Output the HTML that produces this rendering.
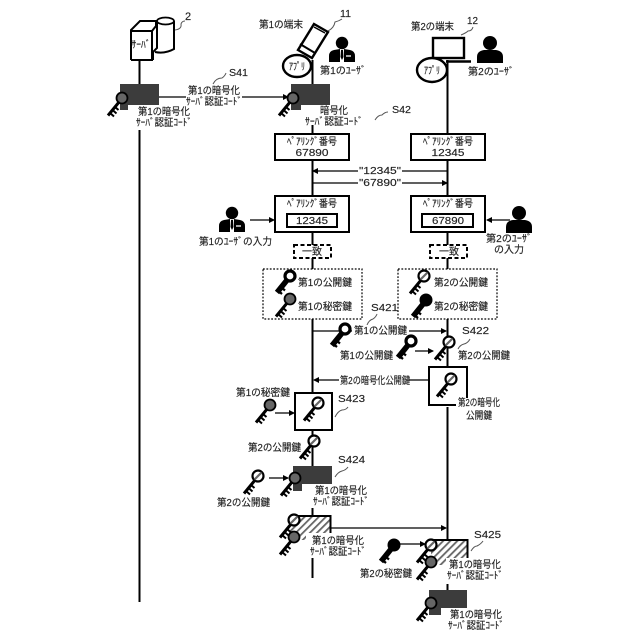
<!DOCTYPE html>
<html lang="ja"><head><meta charset="utf-8"><style>
html,body{margin:0;padding:0;background:#fff}
svg{display:block}
text{font-family:"Liberation Sans","Noto Sans CJK JP",sans-serif;font-size:10px;fill:#222;stroke:#222;stroke-width:.15}
.c{text-anchor:middle}
.l{stroke:#000;stroke-width:2;fill:none}
.t{stroke:#000;stroke-width:1.3;fill:none}
.sq{stroke:#555;stroke-width:1;fill:none}
.b{fill:#fff;stroke:#000;stroke-width:2}
.d{fill:#3c3c3c}
</style></head><body>
<svg width="640" height="640" viewBox="0 0 640 640" xmlns="http://www.w3.org/2000/svg">
<defs>
<marker id="a" markerWidth="6" markerHeight="6" refX="5" refY="3" orient="auto" markerUnits="userSpaceOnUse"><path d="M0,0L6,3L0,6z" fill="#000"/></marker>
<pattern id="h" width="5" height="5" patternUnits="userSpaceOnUse" patternTransform="rotate(-45)"><rect width="5" height="5" fill="#fff"/><rect width="5" height="1.8" fill="#666"/></pattern>
<g id="sh" stroke="#000" fill="none"><path d="M-2.5,3.5L-14,17.500" stroke-width="3"/><path d="M-12.500,14.500l4.500,4M-10,11.500l4.500,4M-7.500,8.500l4,3.500" stroke-width="2"/></g>
<g id="kw"><use href="#sh"/><circle r="5.500" fill="#fff" stroke="#000" stroke-width="2.200"/><path d="M-3.500,3.500L3.500,-3.500" stroke="#666" stroke-width="2.200"/></g>
<g id="kg"><use href="#sh"/><circle r="5.500" fill="#666" stroke="#000" stroke-width="1.800"/></g>
<g id="kp"><path d="M-2.500,3.500L-13,16.500" stroke="#000" stroke-width="5.500"/><path d="M-12,14.500l4,3.500M-9,11l4,3.500" stroke="#000" stroke-width="2.200"/><circle r="5" fill="#fff" stroke="#000" stroke-width="3.200"/></g>
<g id="kk"><path d="M-2.500,3.500L-13,16.500" stroke="#000" stroke-width="5.500"/><path d="M-12,14.500l4,3.500M-9,11l4,3.500" stroke="#000" stroke-width="2.200"/><circle r="6.500" fill="#000"/></g>
<g id="u1"><circle cy="-8" r="6.200" fill="#000"/><path d="M-13,11V5Q-13,0 -8,-1L-2,-2V11zM13,11V5Q13,0 8,-1L2,-2V11z" fill="#000"/><path d="M-1,-1H1L1.500,6L0,9L-1.500,6z" fill="#000"/><path d="M4,5H9" stroke="#fff" stroke-width="1.300"/></g>
<g id="u2"><circle cy="-8" r="7" fill="#000"/><path d="M-13,12V6Q-13,0 -6,-1H6Q13,0 13,6V12z" fill="#000"/></g>
</defs>

<!-- lifelines -->
<path class="l" d="M139.500,60V85M139.500,130V602"/>
<path class="l" d="M312.500,60V85M312.500,125V134M312.500,160V196M312.500,232V245M312.500,257V269M312.500,319V393M312.500,430V466M312.500,508V516M312.500,558V578"/>
<path class="l" d="M447.500,60V134M447.500,160V196M447.500,232V245M447.500,257V269M447.500,319V367M447.500,407V540M447.500,584V590"/>

<!-- server -->
<path d="M157,21V48L153,52V60M155,52Q165,54 174,49V21" fill="#fff" stroke="#000" stroke-width="2"/>
<ellipse cx="165.500" cy="21" rx="8.500" ry="3.500" fill="#fff" stroke="#000" stroke-width="1.800"/>
<path d="M131,60V30L140,21H156V26L152,31H131M152,31V60H131" fill="#fff" stroke="#000" stroke-width="2"/>
<text class="c" x="141" y="48" textLength="19" lengthAdjust="spacingAndGlyphs">ｻｰﾊﾞ</text>
<text x="185" y="20" style="font-size:11px">2</text>
<path class="sq" d="M175,30Q182,29 181,24Q182,21 185,21"/>

<!-- S41 dark -->
<path class="d" d="M120,84H159V105H128V110H120z"/>
<use href="#kg" x="122" y="98"/>
<text class="c" x="164" y="115" textLength="52" lengthAdjust="spacingAndGlyphs">第1の暗号化</text>
<text class="c" x="164" y="126" textLength="56" lengthAdjust="spacingAndGlyphs">ｻｰﾊﾞ認証ｺｰﾄﾞ</text>
<path class="t" d="M159,97H288" marker-end="url(#a)"/>
<rect x="186" y="85" width="56" height="21" fill="#fff"/>
<text class="c" x="214" y="94" textLength="52" lengthAdjust="spacingAndGlyphs">第1の暗号化</text>
<text class="c" x="214" y="105" textLength="56" lengthAdjust="spacingAndGlyphs">ｻｰﾊﾞ認証ｺｰﾄﾞ</text>
<text x="229" y="76" textLength="19" lengthAdjust="spacingAndGlyphs">S41</text>
<path class="sq" d="M213,84Q216,78 222,78Q225,76 226,73"/>

<!-- terminal 1 -->
<text x="259" y="28" textLength="44" lengthAdjust="spacingAndGlyphs">第1の端末</text>
<path d="M314,24L328,32L312,58L298,50z" fill="#fff" stroke="#000" stroke-width="2.400"/>
<path d="M300,44L315,53" stroke="#000" stroke-width="2"/><path d="M314,27L325,33" stroke="#000" stroke-width="1.500"/>
<ellipse cx="297" cy="66" rx="14" ry="11" fill="#fff" stroke="#000" stroke-width="2.400"/>
<text class="c" x="297" y="70" textLength="16" lengthAdjust="spacingAndGlyphs">ｱﾌﾟﾘ</text>
<text x="340" y="17" textLength="11" lengthAdjust="spacingAndGlyphs">11</text>
<path class="sq" d="M328,31Q334,28 335,22Q339,21 342,19"/>
<use href="#u1" x="342" y="51"/>
<text x="320" y="74" textLength="46" lengthAdjust="spacingAndGlyphs">第1のﾕｰｻﾞ</text>
<path class="d" d="M291,84H330V105H301V110H291z"/>
<use href="#kg" x="293" y="98"/>
<text x="320" y="114" textLength="28" lengthAdjust="spacingAndGlyphs">暗号化</text>
<text x="305" y="125" textLength="58" lengthAdjust="spacingAndGlyphs">ｻｰﾊﾞ認証ｺｰﾄﾞ</text>
<text x="392" y="113" textLength="19" lengthAdjust="spacingAndGlyphs">S42</text>
<path class="sq" d="M375,120Q378,115 382,115Q385,112 388,112"/>

<!-- terminal 2 -->
<text x="411" y="30" textLength="43" lengthAdjust="spacingAndGlyphs">第2の端末</text>
<rect x="433" y="38" width="31" height="20" fill="#fff" stroke="#000" stroke-width="2.400"/>
<path d="M446,61.500H471" stroke="#000" stroke-width="2.400"/>
<ellipse cx="432" cy="70" rx="15" ry="12" fill="#fff" stroke="#000" stroke-width="2.400"/>
<text class="c" x="432" y="74" textLength="16" lengthAdjust="spacingAndGlyphs">ｱﾌﾟﾘ</text>
<text x="467" y="24" textLength="11" lengthAdjust="spacingAndGlyphs">12</text>
<path class="sq" d="M461,35Q466,33 468,31Q472,31 473,27"/>
<use href="#u2" x="490" y="51"/>
<text x="468" y="75" textLength="46" lengthAdjust="spacingAndGlyphs">第2のﾕｰｻﾞ</text>

<!-- pairing top -->
<rect class="b" x="275" y="134" width="74" height="26"/>
<text class="c" x="312" y="145" textLength="50" lengthAdjust="spacingAndGlyphs">ﾍﾟｱﾘﾝｸﾞ番号</text>
<text class="c" x="312" y="156" textLength="33" lengthAdjust="spacingAndGlyphs">67890</text>
<rect class="b" x="411" y="134" width="74" height="26"/>
<text class="c" x="448" y="145" textLength="50" lengthAdjust="spacingAndGlyphs">ﾍﾟｱﾘﾝｸﾞ番号</text>
<text class="c" x="448" y="156" textLength="33" lengthAdjust="spacingAndGlyphs">12345</text>

<path class="t" d="M447,171H313" marker-end="url(#a)"/>
<path class="t" d="M313,183H447" marker-end="url(#a)"/>
<rect x="358" y="166" width="44" height="22" fill="#fff"/>
<text class="c" x="380" y="174" textLength="42" lengthAdjust="spacingAndGlyphs">"12345"</text>
<text class="c" x="380" y="186" textLength="42" lengthAdjust="spacingAndGlyphs">"67890"</text>

<!-- pairing entry -->
<rect class="b" x="275" y="196" width="74" height="36"/>
<text class="c" x="312" y="207" textLength="50" lengthAdjust="spacingAndGlyphs">ﾍﾟｱﾘﾝｸﾞ番号</text>
<rect class="b" x="287" y="214" width="50" height="13"/>
<text class="c" x="312" y="224" textLength="32" lengthAdjust="spacingAndGlyphs">12345</text>
<rect class="b" x="411" y="196" width="74" height="36"/>
<text class="c" x="448" y="207" textLength="50" lengthAdjust="spacingAndGlyphs">ﾍﾟｱﾘﾝｸﾞ番号</text>
<rect class="b" x="422" y="214" width="51" height="13"/>
<text class="c" x="448" y="224" textLength="32" lengthAdjust="spacingAndGlyphs">67890</text>

<use href="#u1" x="232" y="221"/>
<path class="t" d="M250,220H274" marker-end="url(#a)"/>
<text x="199" y="245" textLength="73" lengthAdjust="spacingAndGlyphs">第1のﾕｰｻﾞの入力</text>
<use href="#u2" x="519" y="221"/>
<path class="t" d="M510,220H487" marker-end="url(#a)"/>
<text class="c" x="509" y="242" textLength="46" lengthAdjust="spacingAndGlyphs">第2のﾕｰｻﾞ</text>
<text class="c" x="509" y="253" textLength="30" lengthAdjust="spacingAndGlyphs">の入力</text>

<rect x="294" y="245" width="37" height="13" fill="#fff" stroke="#000" stroke-width="2" stroke-dasharray="4 2.500"/>
<text class="c" x="312" y="255" textLength="20" lengthAdjust="spacingAndGlyphs">一致</text>
<rect x="430" y="245" width="37" height="13" fill="#fff" stroke="#000" stroke-width="2" stroke-dasharray="4 2.500"/>
<text class="c" x="449" y="255" textLength="20" lengthAdjust="spacingAndGlyphs">一致</text>

<!-- key groups -->
<rect x="263" y="269" width="99" height="50" fill="#fff" stroke="#000" stroke-width="1.200" stroke-dasharray="1.800 1.600"/>
<rect x="398" y="269" width="99" height="50" fill="#fff" stroke="#000" stroke-width="1.200" stroke-dasharray="1.800 1.600"/>
<use href="#kp" x="290" y="276"/>
<use href="#kg" x="290" y="299"/>
<text x="298" y="286" textLength="54" lengthAdjust="spacingAndGlyphs">第1の公開鍵</text>
<text x="298" y="310" textLength="54" lengthAdjust="spacingAndGlyphs">第1の秘密鍵</text>
<use href="#kw" x="424" y="276"/>
<use href="#kk" x="426" y="300"/>
<text x="434" y="286" textLength="54" lengthAdjust="spacingAndGlyphs">第2の公開鍵</text>
<text x="434" y="310" textLength="54" lengthAdjust="spacingAndGlyphs">第2の秘密鍵</text>

<!-- S421 -->
<text x="371" y="311" textLength="27" lengthAdjust="spacingAndGlyphs">S421</text>
<path class="sq" d="M367,325Q369,320 373,319Q376,317 377,314"/>
<path class="t" d="M313,331H446" marker-end="url(#a)"/>
<rect x="352" y="325" width="57" height="12" fill="#fff"/>
<use href="#kp" x="345" y="329"/>
<text x="354" y="334" textLength="53" lengthAdjust="spacingAndGlyphs">第1の公開鍵</text>

<text x="340" y="359" textLength="53" lengthAdjust="spacingAndGlyphs">第1の公開鍵</text>
<use href="#kp" x="411" y="341"/>
<path class="t" d="M415,351H433" marker-end="url(#a)"/>
<use href="#kw" x="449" y="342"/>
<text x="458" y="359" textLength="52" lengthAdjust="spacingAndGlyphs">第2の公開鍵</text>
<text x="462" y="334" textLength="27" lengthAdjust="spacingAndGlyphs">S422</text>
<path class="sq" d="M458,349Q460,345 464,344Q468,343 470,339"/>

<!-- encrypted public key -->
<path class="t" d="M428,380H314" marker-end="url(#a)"/>
<rect x="339" y="374" width="70" height="12" fill="#fff"/>
<text x="340" y="384" textLength="70" lengthAdjust="spacingAndGlyphs">第2の暗号化公開鍵</text>
<path class="b" d="M467,398V367H429V405H456"/>
<use href="#kw" x="451" y="379"/>
<text class="c" x="479" y="406" textLength="42" lengthAdjust="spacingAndGlyphs">第2の暗号化</text>
<text class="c" x="479" y="419" textLength="26" lengthAdjust="spacingAndGlyphs">公開鍵</text>

<!-- S423 -->
<text x="236" y="396" textLength="54" lengthAdjust="spacingAndGlyphs">第1の秘密鍵</text>
<use href="#kg" x="270" y="405"/>
<path class="t" d="M275,413H294" marker-end="url(#a)"/>
<rect class="b" x="295" y="393" width="37" height="37"/>
<use href="#kw" x="318" y="403"/>
<text x="338" y="402" textLength="27" lengthAdjust="spacingAndGlyphs">S423</text>
<path class="sq" d="M335,417Q338,411 342,410Q346,410 348,407"/>

<text x="248" y="451" textLength="53" lengthAdjust="spacingAndGlyphs">第2の公開鍵</text>
<use href="#kw" x="314" y="441"/>

<!-- S424 -->
<text x="338" y="463" textLength="27" lengthAdjust="spacingAndGlyphs">S424</text>
<path class="sq" d="M335,477Q338,472 342,471Q346,470 348,467"/>
<use href="#kw" x="258" y="476"/>
<path class="t" d="M269,478H288" marker-end="url(#a)"/>
<path class="d" d="M293,466H332V484H302V491H293z"/>
<use href="#kg" x="295" y="478"/>
<text class="c" x="341" y="494" textLength="52" lengthAdjust="spacingAndGlyphs">第1の暗号化</text>
<text class="c" x="341" y="505" textLength="56" lengthAdjust="spacingAndGlyphs">ｻｰﾊﾞ認証ｺｰﾄﾞ</text>
<text x="217" y="506" textLength="53" lengthAdjust="spacingAndGlyphs">第2の公開鍵</text>

<!-- hatched left -->
<path d="M290,516H330V533H306V540H290z" fill="url(#h)"/>
<path class="l" d="M294,516H330.500V533"/>
<use href="#kw" x="294" y="520"/>
<use href="#kg" x="294" y="537"/>
<text class="c" x="338" y="544" textLength="52" lengthAdjust="spacingAndGlyphs">第1の暗号化</text>
<text class="c" x="338" y="555" textLength="56" lengthAdjust="spacingAndGlyphs">ｻｰﾊﾞ認証ｺｰﾄﾞ</text>
<path class="t" d="M331,528H446" marker-end="url(#a)"/>

<!-- S425 -->
<text x="474" y="538" textLength="27" lengthAdjust="spacingAndGlyphs">S425</text>
<path class="sq" d="M471,551Q474,546 477,546Q481,544 483,541"/>
<use href="#kk" x="394" y="545"/>
<path class="t" d="M400,544H425" marker-end="url(#a)"/>
<text x="360" y="577" textLength="52" lengthAdjust="spacingAndGlyphs">第2の秘密鍵</text>
<path d="M431,540H467V558H446V565H431z" fill="url(#h)"/>
<path class="l" d="M434,540H467.500V558"/>
<use href="#kw" x="431" y="545"/>
<use href="#kg" x="431" y="562"/>
<text class="c" x="475" y="568" textLength="52" lengthAdjust="spacingAndGlyphs">第1の暗号化</text>
<text class="c" x="475" y="579" textLength="56" lengthAdjust="spacingAndGlyphs">ｻｰﾊﾞ認証ｺｰﾄﾞ</text>

<!-- final -->
<path class="d" d="M429,590H467V608H441V615H429z"/>
<use href="#kg" x="431" y="603"/>
<text class="c" x="476" y="618" textLength="52" lengthAdjust="spacingAndGlyphs">第1の暗号化</text>
<text class="c" x="476" y="629" textLength="56" lengthAdjust="spacingAndGlyphs">ｻｰﾊﾞ認証ｺｰﾄﾞ</text>
</svg>
</body></html>
